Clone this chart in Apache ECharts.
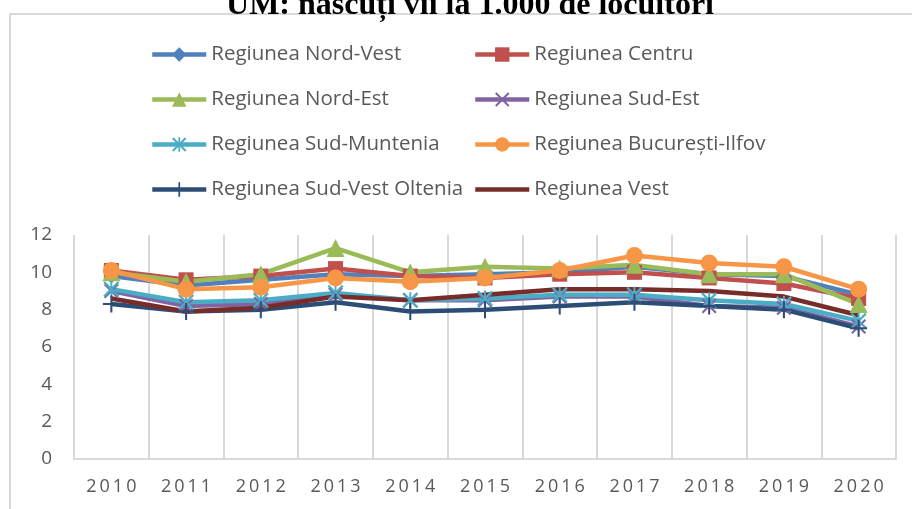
<!DOCTYPE html>
<html>
<head>
<meta charset="utf-8">
<script src="https://cdn.jsdelivr.net/npm/echarts@6/dist/echarts.min.js"></script>
<style>
	html, body { margin: 0; padding: 0; background: #fff; }
	#chart { width: 912px; height: 509px; }
</style>
</head>
<body>
<div id="chart"></div>
<script>
	//ani
	var years = ['2010', '2011', '2012', '2013', '2014', '2015', '2016', '2017', '2018', '2019', '2020'];
	var y_ticks = [0, 2, 4, 6, 8, 10, 12];

	//valori pe regiuni
	var nord_vest = [9.8, 9.3, 9.6, 9.9, 9.8, 9.9, 10.0, 10.3, 9.9, 9.8, 8.8];
	var centru = [10.1, 9.6, 9.8, 10.2, 9.8, 9.7, 9.9, 10.0, 9.7, 9.4, 8.6];
	var nord_est = [10.0, 9.5, 9.9, 11.3, 10.0, 10.3, 10.2, 10.4, 9.9, 9.9, 8.3];
	var sud_est = [9.0, 8.2, 8.3, 8.8, 8.5, 8.5, 8.7, 8.7, 8.2, 8.1, 7.1];
	var sud_muntenia = [9.1, 8.4, 8.5, 8.9, 8.5, 8.6, 8.8, 8.8, 8.5, 8.3, 7.4];
	var bucuresti_ilfov = [10.1, 9.1, 9.2, 9.7, 9.5, 9.7, 10.1, 10.9, 10.5, 10.3, 9.1];
	var sud_vest_oltenia = [8.3, 7.9, 8.0, 8.4, 7.9, 8.0, 8.2, 8.4, 8.2, 8.0, 7.0];
	var vest = [8.6, 7.9, 8.1, 8.7, 8.5, 8.8, 9.1, 9.1, 9.0, 8.7, 7.7];

	//simboluri desenate ca in Excel
	var sym_x = 'path://M0,1L1,0L5,4L9,0L10,1L6,5L10,9L9,10L5,6L1,10L0,9L4,5Z';
	var sym_star = 'path://M0,1L1,0L5,4L9,0L10,1L6,5L10,9L9,10L5,6L1,10L0,9L4,5ZM4.4,0H5.6V10H4.4Z';
	var sym_plus = 'path://M4.4,0H5.6V4.4H10V5.6H5.6V10H4.4V5.6H0V4.4H4.4Z';
	var sym_dash = 'path://M0,0H54V4.5H0Z';

	var font = "'Open Sans', sans-serif";
	var grey = '#595959';
	var line_grey = '#d9d9d9';

	function make_series(name, data, color, symbol, size) {
		return {
			name: name,
			type: 'line',
			data: data,
			symbol: symbol,
			symbolSize: size,
			showSymbol: symbol != 'none',
			itemStyle: { color: color },
			lineStyle: { color: color, width: 4.5 },
			emphasis: { disabled: true }
		};
	}

	var series_list = [
		make_series('Regiunea Nord-Vest', nord_vest, '#4F81BD', 'diamond', 15),
		make_series('Regiunea Centru', centru, '#C0504D', 'rect', 15),
		make_series('Regiunea Nord-Est', nord_est, '#9BBB59', 'triangle', 18),
		make_series('Regiunea Sud-Est', sud_est, '#8064A2', sym_x, 15),
		make_series('Regiunea Sud-Muntenia', sud_muntenia, '#4BACC6', sym_star, 16),
		make_series('Regiunea București-Ilfov', bucuresti_ilfov, '#F79646', 'circle', 17),
		make_series('Regiunea Sud-Vest Oltenia', sud_vest_oltenia, '#2C4D75', sym_plus, 17),
		make_series('Regiunea Vest', vest, '#772C2A', 'none', 0)
	];

	//legenda pe doua coloane: pare in stanga, impare in dreapta
	var legend_left = [];
	var legend_right = [];
	for(var i = 0; i < series_list.length; i++) {
		var item = { name: series_list[i].name };
		//Vest nu are marcaj, doar linia
		if(series_list[i].symbol == 'none') {
			item.icon = sym_dash;
		}
		if(i % 2 == 0) {
			legend_left.push(item);
		} else {
			legend_right.push(item);
		}
	}

	function make_legend(left, data) {
		return {
			left: left,
			top: 44,
			padding: 0,
			orient: 'vertical',
			itemWidth: 54,
			itemHeight: 18,
			itemGap: 24,
			lineStyle: { width: 4.5 },
			textStyle: {
				color: grey,
				fontFamily: font,
				fontSize: 20.5,
				lineHeight: 18
			},
			data: data
		};
	}

	var myChart = echarts.init(document.getElementById('chart'));
	var option = {
		animation: false,
		backgroundColor: '#fff',
		graphic: [{
			type: 'rect',
			z: -10,
			shape: { x: 10, y: 14, width: 1000, height: 600 },
			style: { fill: 'none', stroke: line_grey, lineWidth: 2 }
		}, {
			type: 'text',
			x: 470,
			y: 6,
			style: {
				text: 'UM: născuți vii la 1.000 de locuitori',
				fontFamily: "'Liberation Serif', serif",
				fontWeight: 'bold',
				fontSize: 32,
				fill: '#000',
				align: 'center',
				verticalAlign: 'middle'
			}
		}],
		legend: [make_legend(150, legend_left), make_legend(473, legend_right)],
		grid: {
			left: 74,
			right: 16,
			top: 235,
			bottom: 50
		},
		xAxis: {
			type: 'category',
			boundaryGap: true,
			data: years,
			axisLine: { lineStyle: { color: line_grey, width: 2 } },
			axisTick: { show: false },
			splitLine: { show: true, interval: 0, lineStyle: { color: line_grey, width: 2 } },
			axisLabel: {
				color: grey,
				fontFamily: font,
				fontSize: 18,
				margin: 19,
				formatter: function(v) {
					return v.split('').join('\u2009');
				}
			}
		},
		yAxis: {
			type: 'value',
			min: y_ticks[0],
			max: y_ticks[y_ticks.length - 1],
			interval: 2,
			axisLine: { show: false },
			axisTick: { show: false },
			splitLine: { show: false },
			axisLabel: {
				color: grey,
				fontFamily: font,
				fontSize: 19,
				margin: 22
			}
		},
		series: series_list
	};
	myChart.setOption(option);
</script>
</body>
</html>
